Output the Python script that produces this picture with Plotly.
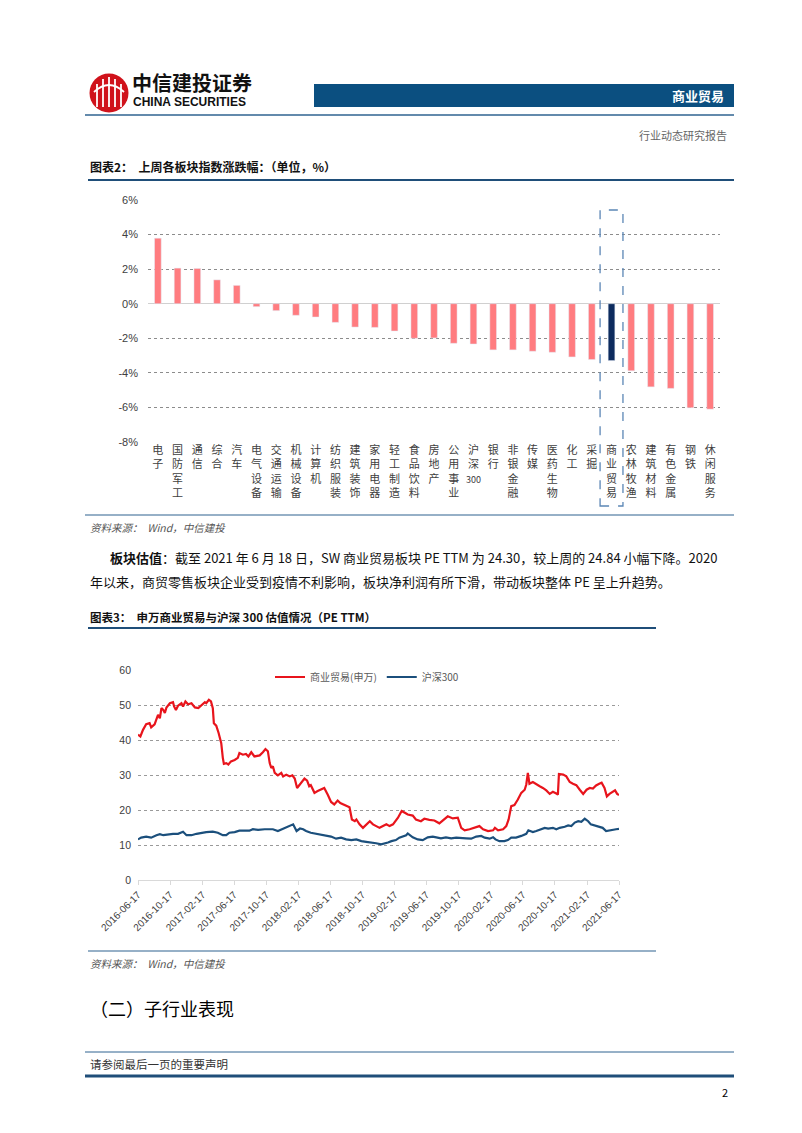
import plotly.graph_objects as go

W, H = 802, 1133

# ---- chart 2 data: weekly change by sector (%) ----
sectors = ["电子", "国防军工", "通信", "综合", "汽车", "电气设备", "交通运输", "机械设备",
           "计算机", "纺织服装", "建筑装饰", "家用电器", "轻工制造", "食品饮料", "房地产",
           "公用事业", "沪深300", "银行", "非银金融", "传媒", "医药生物", "化工", "采掘",
           "商业贸易", "农林牧渔", "建筑材料", "有色金属", "钢铁", "休闲服务"]
changes = [3.79, 2.06, 2.04, 1.38, 1.06, -0.17, -0.40, -0.67, -0.77, -1.08, -1.35, -1.37,
           -1.58, -2.00, -1.98, -2.29, -2.33, -2.67, -2.67, -2.75, -2.81, -3.08, -3.23,
           -3.29, -3.88, -4.81, -4.90, -6.02, -6.10]
highlight = "商业贸易"
pct_ticks = [6, 4, 2, 0, -2, -4, -6, -8]
pct_labels = ["6%", "4%", "2%", "0%", "-2%", "-4%", "-6%", "-8%"]

# ---- chart 3 data: PE TTM ----
trade_dates = ["2016-06-17", "2016-06-26", "2016-07-06", "2016-07-18", "2016-07-31", "2016-08-06",
               "2016-08-19", "2016-08-26", "2016-09-01", "2016-09-08", "2016-09-14", "2016-09-21",
               "2016-09-27", "2016-10-03", "2016-10-16", "2016-10-28", "2016-11-01", "2016-11-08",
               "2016-11-16", "2016-11-29", "2016-12-05", "2016-12-14", "2016-12-24", "2017-01-06",
               "2017-01-19", "2017-02-01", "2017-02-14", "2017-02-26", "2017-03-03", "2017-03-13",
               "2017-03-21", "2017-03-28", "2017-04-01", "2017-04-10", "2017-04-19", "2017-04-29",
               "2017-05-05", "2017-05-09", "2017-05-18", "2017-05-26", "2017-06-05", "2017-06-19",
               "2017-07-01", "2017-07-07", "2017-07-20", "2017-08-01", "2017-08-10", "2017-08-21",
               "2017-09-02", "2017-09-22", "2017-10-04", "2017-10-14", "2017-10-23", "2017-10-30",
               "2017-11-05", "2017-11-11", "2017-11-18", "2017-11-30", "2017-12-13", "2017-12-20",
               "2018-01-01", "2018-01-14", "2018-01-24", "2018-02-02", "2018-02-11", "2018-02-22",
               "2018-03-01", "2018-03-11", "2018-03-21", "2018-03-29", "2018-04-04", "2018-04-18",
               "2018-04-30", "2018-05-13", "2018-05-25", "2018-06-07", "2018-06-20", "2018-07-02",
               "2018-07-15", "2018-07-25", "2018-08-10", "2018-08-29", "2018-09-07", "2018-09-18",
               "2018-09-24", "2018-10-06", "2018-10-19", "2018-10-31", "2018-11-14", "2018-11-26",
               "2018-12-08", "2018-12-21", "2019-01-03", "2019-01-16", "2019-01-28", "2019-02-10",
               "2019-03-01", "2019-03-15", "2019-03-27", "2019-04-07", "2019-04-26", "2019-05-08",
               "2019-05-27", "2019-06-09", "2019-06-28", "2019-07-17", "2019-08-05", "2019-08-24",
               "2019-09-06", "2019-09-25", "2019-10-14", "2019-10-27", "2019-11-09", "2019-11-28",
               "2019-12-17", "2020-01-04", "2020-01-18", "2020-02-06", "2020-02-25", "2020-03-03",
               "2020-03-15", "2020-04-03", "2020-04-15", "2020-04-24", "2020-05-04", "2020-05-16",
               "2020-05-29", "2020-06-11", "2020-06-24", "2020-06-30", "2020-07-06", "2020-07-12",
               "2020-07-25", "2020-08-07", "2020-08-20", "2020-09-01", "2020-09-14", "2020-09-27",
               "2020-10-09", "2020-10-22", "2020-10-28", "2020-11-01", "2020-11-17", "2020-11-29",
               "2020-12-12", "2020-12-24", "2021-01-06", "2021-01-19", "2021-02-01", "2021-02-14",
               "2021-02-26", "2021-03-10", "2021-03-22", "2021-04-03", "2021-04-12", "2021-04-23",
               "2021-05-02", "2021-05-12", "2021-05-24", "2021-06-02", "2021-06-10", "2021-06-17"]
trade_pe = [41.5, 41.0, 42.9, 44.5, 44.8, 43.6, 44.5, 46.0, 47.2, 46.2, 49.1, 48.6,
            47.7, 49.3, 50.5, 50.8, 49.6, 48.6, 49.8, 50.5, 49.6, 51.0, 50.2, 50.5,
            49.3, 49.1, 50.0, 50.8, 50.5, 51.5, 51.0, 49.1, 44.8, 44.1, 42.0, 39.1,
            34.9, 33.2, 33.4, 33.0, 33.9, 34.3, 34.9, 36.3, 35.8, 36.0, 35.3, 36.5,
            35.3, 35.6, 36.5, 37.4, 36.8, 33.4, 32.0, 32.5, 30.6, 29.9, 30.6, 29.6,
            30.1, 29.6, 29.9, 29.0, 26.3, 27.5, 28.0, 29.0, 28.4, 26.8, 27.1, 24.9,
            25.4, 25.8, 26.3, 24.4, 22.3, 21.6, 22.7, 22.0, 21.4, 20.8, 17.3, 16.8,
            17.3, 15.9, 14.9, 15.9, 16.8, 15.9, 15.4, 14.9, 15.4, 15.9, 15.4, 15.9,
            17.8, 19.7, 19.2, 18.7, 18.4, 17.3, 16.8, 17.5, 17.2, 17.0, 16.2, 17.3,
            18.2, 17.6, 17.8, 14.9, 14.2, 14.5, 14.9, 15.4, 14.5, 14.0, 14.2, 14.9,
            14.2, 14.5, 15.4, 17.3, 21.1, 21.4, 23.0, 24.9, 25.8, 27.3, 30.6, 27.5,
            28.0, 27.5, 26.8, 26.3, 25.6, 24.6, 25.2, 24.7, 24.4, 30.3, 30.1, 29.6,
            28.0, 27.5, 27.1, 25.8, 24.6, 25.8, 26.3, 26.1, 27.0, 27.5, 27.8, 26.3,
            23.9, 24.6, 25.1, 25.6, 24.6, 24.3]

hs300_dates = ["2016-06-17", "2016-06-29", "2016-07-18", "2016-08-06", "2016-08-26", "2016-09-08",
               "2016-09-21", "2016-10-09", "2016-10-28", "2016-11-16", "2016-12-05", "2016-12-18",
               "2017-01-06", "2017-01-25", "2017-02-14", "2017-03-03", "2017-03-28", "2017-04-16",
               "2017-05-05", "2017-05-18", "2017-05-30", "2017-06-19", "2017-07-07", "2017-07-26",
               "2017-08-14", "2017-08-27", "2017-09-16", "2017-10-11", "2017-10-30", "2017-11-11",
               "2017-11-30", "2017-12-20", "2018-01-08", "2018-01-27", "2018-02-09", "2018-02-22",
               "2018-03-06", "2018-03-17", "2018-04-04", "2018-04-24", "2018-05-13", "2018-06-01",
               "2018-06-20", "2018-07-09", "2018-07-28", "2018-08-16", "2018-09-05", "2018-09-24",
               "2018-10-13", "2018-10-31", "2018-11-20", "2018-12-08", "2018-12-27", "2019-01-10",
               "2019-01-22", "2019-02-04", "2019-02-21", "2019-03-06", "2019-03-19", "2019-04-01",
               "2019-04-07", "2019-04-26", "2019-05-15", "2019-06-03", "2019-06-22", "2019-07-11",
               "2019-07-29", "2019-08-11", "2019-08-30", "2019-09-19", "2019-10-08", "2019-10-27",
               "2019-11-15", "2019-12-04", "2019-12-23", "2020-01-11", "2020-01-24", "2020-02-12",
               "2020-02-25", "2020-03-05", "2020-03-20", "2020-04-08", "2020-04-21", "2020-05-04",
               "2020-05-22", "2020-06-11", "2020-06-30", "2020-07-08", "2020-07-25", "2020-08-07",
               "2020-08-26", "2020-09-08", "2020-09-21", "2020-10-09", "2020-10-22", "2020-11-04",
               "2020-11-23", "2020-12-06", "2020-12-18", "2020-12-31", "2021-01-13", "2021-01-25",
               "2021-02-07", "2021-02-20", "2021-03-02", "2021-03-16", "2021-04-03", "2021-04-16",
               "2021-04-29", "2021-05-12", "2021-05-24", "2021-06-06", "2021-06-17"]
hs300_pe = [11.6, 12.1, 12.4, 12.1, 12.8, 13.1, 12.8, 13.1, 13.2, 13.2, 13.8, 12.8,
            12.8, 13.2, 13.5, 13.7, 13.8, 13.5, 12.8, 12.8, 13.5, 13.7, 14.1, 14.2,
            14.1, 14.5, 14.3, 14.5, 14.4, 14.5, 14.0, 14.7, 15.2, 15.9, 14.0, 14.7,
            14.5, 14.0, 13.5, 13.2, 13.1, 12.8, 12.4, 11.8, 12.1, 11.6, 11.4, 11.6,
            11.1, 10.9, 10.8, 10.5, 10.2, 10.4, 10.7, 11.1, 11.4, 12.1, 12.4, 12.8,
            13.3, 12.2, 11.6, 11.4, 12.2, 12.4, 12.1, 11.9, 12.2, 11.9, 12.1, 12.1,
            11.9, 11.8, 12.4, 12.6, 12.1, 11.8, 12.2, 11.6, 11.1, 11.1, 11.4, 12.1,
            12.1, 12.6, 13.2, 14.2, 13.7, 14.0, 14.5, 14.9, 14.7, 14.9, 14.5, 14.9,
            15.2, 15.6, 15.4, 16.4, 16.8, 16.6, 17.5, 16.8, 15.9, 15.6, 15.2, 14.9,
            14.0, 14.2, 14.5, 14.5, 14.6]

date_ticks = ["2016-06-17", "2016-10-17", "2017-02-17", "2017-06-17", "2017-10-17", "2018-02-17",
              "2018-06-17", "2018-10-17", "2019-02-17", "2019-06-17", "2019-10-17", "2020-02-17",
              "2020-06-17", "2020-10-17", "2021-02-17", "2021-06-17"]
pe_ticks = [0, 10, 20, 30, 40, 50, 60]

CJK = "Noto Sans CJK SC"
NAVY = "#1F4E79"


def px(x):
    return x / W


def py(y):
    return 1 - y / H


def vertical(label):
    # stack characters one per line, keep digits together
    if label.endswith("300"):
        return "<br>".join(list(label[:-3])) + "<br><span style='font-size:9px'>300</span>"
    return "<br>".join(list(label))


fig = go.Figure()

bar_colors = ["#0D2B5E" if s == highlight else "#FF7C80" for s in sectors]
fig.add_trace(go.Bar(x=sectors, y=changes, marker_color=bar_colors, width=0.34,
                     showlegend=False, xaxis="x", yaxis="y"))

fig.add_trace(go.Scatter(x=trade_dates, y=trade_pe, mode="lines", name="商业贸易(申万)",
                         line=dict(color="#E8141C", width=2.2), xaxis="x2", yaxis="y2"))
fig.add_trace(go.Scatter(x=hs300_dates, y=hs300_pe, mode="lines", name="沪深300",
                         line=dict(color="#1B4F7C", width=2.2), xaxis="x2", yaxis="y2"))

fig.update_layout(
    width=W, height=H, autosize=False,
    margin=dict(l=0, r=0, t=0, b=0, autoexpand=False),
    paper_bgcolor="white", plot_bgcolor="white",
    font=dict(family=CJK, color="#333333"),
    xaxis=dict(domain=[px(140), px(712)], type="category", tickmode="array",
               tickvals=sectors, ticktext=[vertical(s) for s in sectors],
               tickfont=dict(size=11, color="#404040"), automargin=False,
               showgrid=False, showline=False, ticks="", range=[-0.5, len(sectors) - 0.5]),
    yaxis=dict(domain=[py(434), py(192)], range=[-8, 6], tickvals=pct_ticks, ticktext=pct_labels,
               tickfont=dict(size=11, family="Liberation Sans", color="#404040"), automargin=False,
               showgrid=True, gridcolor="#8C8C8C", griddash="dot", gridwidth=1,
               zeroline=True, zerolinecolor="#D0D0D0", zerolinewidth=1, ticklabelstandoff=9),
    xaxis2=dict(domain=[px(130), px(611)], type="date", range=["2016-06-17", "2021-06-17"],
                tickvals=date_ticks, ticktext=date_ticks, tickangle=-45, automargin=False,
                tickfont=dict(size=10, family="Liberation Sans", color="#404040"),
                showgrid=False, showline=True, linecolor="#D9D9D9", linewidth=1,
                ticks="outside", ticklen=4, tickcolor="#D9D9D9", anchor="y2"),
    yaxis2=dict(domain=[py(872), py(662)], range=[0, 60], tickvals=pe_ticks, automargin=False,
                tickfont=dict(size=10.5, family="Liberation Sans", color="#404040"),
                showgrid=True, gridcolor="#9A9A9A", griddash="dot", gridwidth=1,
                zeroline=False, anchor="x2", ticklabelstandoff=6),
    legend=dict(orientation="h", x=px(262), y=py(669), xanchor="left", yanchor="middle",
                font=dict(size=10, color="#595959"), itemwidth=30, bgcolor="rgba(0,0,0,0)"),
)

shapes = []


def hline(y, x0, x1, color, width):
    shapes.append(dict(type="line", xref="paper", yref="paper", x0=px(x0), x1=px(x1),
                       y0=py(y), y1=py(y), line=dict(color=color, width=width)))


# header
shapes.append(dict(type="rect", xref="paper", yref="paper", x0=px(306), x1=px(726),
                   y0=py(99), y1=py(76), fillcolor="#0B4F80", line=dict(width=0)))
hline(107, 77, 726, "#2F6390", 1.5)
# logo
shapes.append(dict(type="circle", xref="paper", yref="paper", x0=px(81.5), x1=px(120.5),
                   y0=py(104.5), y1=py(65.5), fillcolor="#D0121B", line=dict(width=0)))
for lx, top in [(89, 76), (95, 71), (101, 69), (107, 71), (113, 76)]:
    shapes.append(dict(type="line", xref="paper", yref="paper", x0=px(lx), x1=px(lx),
                       y0=py(99), y1=py(top), line=dict(color="white", width=1.8)))
shapes.append(dict(type="path", xref="paper", yref="paper",
                   path=f"M {px(86)},{py(84)} Q {px(101)},{py(70)} {px(116)},{py(84)}",
                   line=dict(color="white", width=1.8)))
hline(172, 80, 726, NAVY, 2)

# chart 2 highlight box around 商业贸易
hi = sectors.index(highlight)
shapes.append(dict(type="rect", xref="x", yref="paper", x0=hi - 0.58, x1=hi + 0.58,
                   y0=py(498), y1=py(202), line=dict(color="#5B86B5", width=1.3, dash="dash")))
hline(507, 77, 726, "#2F6390", 1.2)

# chart 3
hline(620, 80, 648, NAVY, 2)
hline(943, 80, 648, "#2F6390", 1.2)

# footer
hline(1044, 77, 726, "#2F6390", 1)
hline(1068, 77, 726, NAVY, 3)

ann = []


def text(x, y, s, size, color="#000000", anchor="left", family=CJK):
    ann.append(dict(x=px(x), y=py(y), xref="paper", yref="paper", text=s, showarrow=False,
                    xanchor=anchor, yanchor="middle", font=dict(size=size, color=color, family=family)))


text(122, 74, "<b>中信建投证券</b>", 20, "#111111")
text(123, 94, "<b>CHINA SECURITIES</b>", 12, "#111111", family="Liberation Sans")
text(718, 88, "<b>商业贸易</b>", 13, "white", anchor="right")
text(721, 127, "行业动态研究报告", 11, "#666666", anchor="right")
text(80, 158, "<b>图表2：  上周各板块指数涨跌幅：（单位，%）</b>", 12, "#111111")
text(80, 519, "<i>资料来源：  Wind，中信建投</i>", 10.5, "#555555")
text(100, 549, "<b>板块估值</b>：截至 2021 年 6 月 18 日，SW 商业贸易板块 PE TTM 为 24.30，较上周的 24.84 小幅下降。2020",
     13, "#111111")
text(80, 573, "年以来，商贸零售板块企业受到疫情不利影响，板块净利润有所下滑，带动板块整体 PE 呈上升趋势。",
     13, "#111111")
text(80, 609, "<b>图表3：  申万商业贸易与沪深 300 估值情况（PE TTM）</b>", 11.5, "#111111")
text(80, 955, "<i>资料来源：  Wind，中信建投</i>", 10.5, "#555555")
text(80, 1000, "（二）子行业表现", 18, "#000000")
text(80, 1056, "请参阅最后一页的重要声明", 11.5, "#333333")
text(722, 1084, "2", 11, "#000000", anchor="right")

fig.update_layout(shapes=shapes, annotations=ann)

fig.write_html("out.html")
